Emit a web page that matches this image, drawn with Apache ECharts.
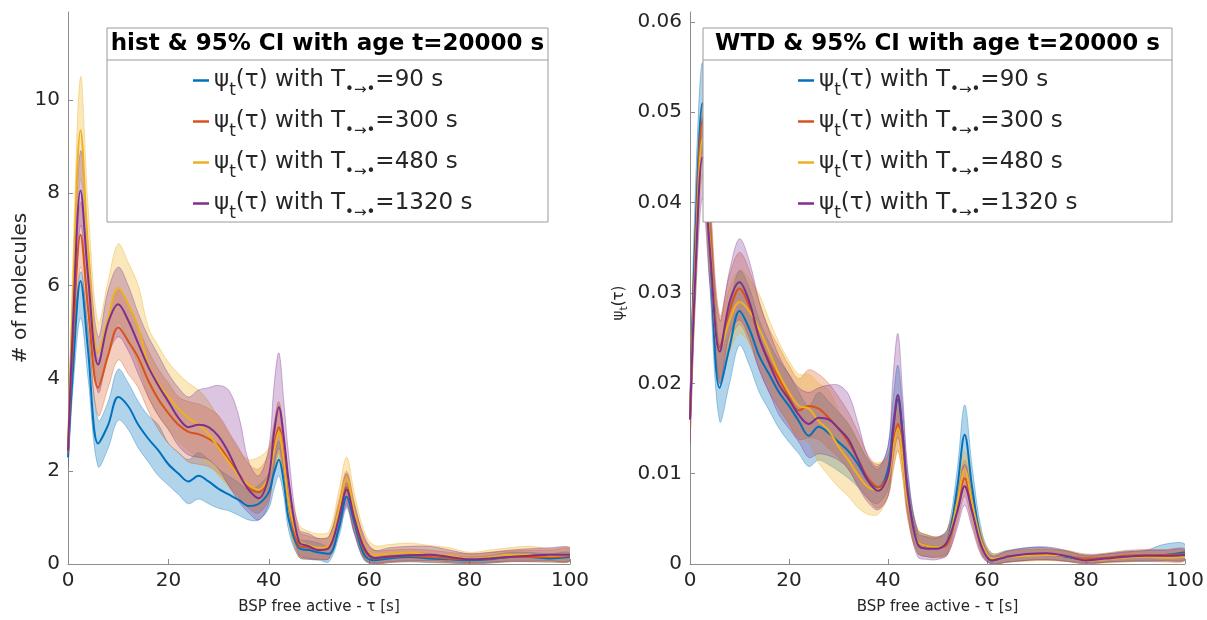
<!DOCTYPE html>
<html>
<head>
<meta charset="utf-8">
<script src="https://cdn.jsdelivr.net/npm/echarts@6/dist/echarts.min.js"></script>
<style>
html,body{margin:0;padding:0;background:#fff;}
#c{width:1207px;height:620px;}
</style>
</head>
<body>
<div id="c"></div>
<script>
// ---------- data ----------
const tau = [0, 1, 2.5, 4, 6, 8, 10, 12, 14, 16, 18, 20, 22, 24, 26, 28, 30, 32, 34, 36, 38, 40, 41, 42, 43, 44, 46, 48, 50, 52, 54, 55.5, 57, 59, 61, 64, 68, 72, 76, 80, 84, 88, 92, 96, 100];
const seriesNames = ['T90', 'T300', 'T480', 'T1320'];
const seriesLabels = ['90', '300', '480', '1320'];

// Left panel: histogram (# of molecules)
const histMean90 = [2.3, 4.2, 6.1, 4.6, 2.6, 3.0, 3.6, 3.4, 3.0, 2.7, 2.45, 2.15, 1.95, 1.78, 1.9, 1.78, 1.62, 1.5, 1.38, 1.25, 1.3, 1.55, 1.95, 2.25, 1.75, 0.95, 0.35, 0.3, 0.25, 0.22, 0.8, 1.45, 0.9, 0.2, 0.08, 0.12, 0.15, 0.12, 0.1, 0.08, 0.1, 0.15, 0.15, 0.12, 0.15];
const histLo90 = [2.1, 3.8, 5.3, 4.0, 2.1, 2.5, 3.1, 2.9, 2.5, 2.2, 1.9, 1.7, 1.5, 1.3, 1.4, 1.3, 1.2, 1.15, 1.05, 0.95, 0.95, 1.2, 1.6, 1.9, 1.45, 0.7, 0.15, 0.1, 0.08, 0.05, 0.6, 1.2, 0.65, 0.08, 0.0, 0.03, 0.05, 0.03, 0.02, 0.0, 0.02, 0.05, 0.05, 0.04, 0.06];
const histHi90 = [2.5, 4.6, 6.3, 5.1, 3.1, 3.5, 4.2, 3.9, 3.5, 3.2, 3.0, 2.6, 2.4, 2.25, 2.4, 2.25, 2.05, 1.9, 1.75, 1.6, 1.7, 1.95, 2.35, 2.65, 2.1, 1.2, 0.55, 0.5, 0.45, 0.4, 1.05, 1.75, 1.15, 0.35, 0.15, 0.22, 0.25, 0.22, 0.18, 0.15, 0.18, 0.25, 0.25, 0.22, 0.25];

const histMean300 = [2.4, 4.8, 7.1, 5.5, 3.8, 4.5, 5.1, 4.8, 4.45, 3.95, 3.55, 3.25, 3.0, 2.85, 2.8, 2.7, 2.55, 2.25, 1.95, 1.65, 1.55, 1.9, 2.5, 2.95, 2.3, 1.3, 0.4, 0.35, 0.3, 0.35, 1.05, 1.65, 1.0, 0.3, 0.12, 0.15, 0.18, 0.15, 0.12, 0.1, 0.12, 0.15, 0.15, 0.15, 0.18];
const histLo300 = [2.2, 4.3, 6.4, 4.9, 3.2, 3.8, 4.4, 4.1, 3.8, 3.3, 2.9, 2.6, 2.4, 2.2, 2.15, 2.1, 1.95, 1.7, 1.45, 1.2, 1.1, 1.4, 2.0, 2.4, 1.8, 0.9, 0.15, 0.1, 0.1, 0.12, 0.75, 1.3, 0.7, 0.1, 0.0, 0.03, 0.05, 0.04, 0.02, 0.0, 0.02, 0.05, 0.05, 0.05, 0.06];
const histHi300 = [2.6, 5.4, 7.8, 6.2, 4.4, 5.3, 5.9, 5.6, 5.1, 4.6, 4.2, 3.9, 3.6, 3.5, 3.45, 3.35, 3.2, 2.85, 2.5, 2.15, 2.05, 2.4, 3.0, 3.5, 2.85, 1.75, 0.7, 0.6, 0.55, 0.6, 1.4, 2.0, 1.35, 0.55, 0.3, 0.3, 0.32, 0.3, 0.25, 0.22, 0.25, 0.28, 0.3, 0.3, 0.32];

const histMean480 = [2.5, 5.8, 9.35, 6.8, 4.55, 5.3, 5.95, 5.6, 5.1, 4.3, 3.9, 3.6, 3.35, 3.15, 3.0, 2.8, 2.5, 2.2, 1.9, 1.7, 1.6, 1.9, 2.4, 2.85, 2.2, 1.3, 0.5, 0.4, 0.35, 0.4, 1.2, 1.85, 1.15, 0.4, 0.2, 0.22, 0.25, 0.2, 0.18, 0.12, 0.15, 0.2, 0.2, 0.18, 0.2];
const histLo480 = [2.3, 5.1, 8.3, 6.0, 3.9, 4.6, 5.2, 4.8, 4.3, 3.6, 3.2, 2.9, 2.65, 2.45, 2.3, 2.15, 1.9, 1.65, 1.4, 1.25, 1.2, 1.45, 1.9, 2.3, 1.7, 0.9, 0.2, 0.15, 0.12, 0.15, 0.85, 1.4, 0.8, 0.15, 0.03, 0.05, 0.08, 0.06, 0.05, 0.02, 0.04, 0.06, 0.06, 0.05, 0.06];
const histHi480 = [2.7, 6.6, 10.5, 7.7, 5.2, 6.1, 6.9, 6.5, 6.0, 5.1, 4.7, 4.35, 4.1, 3.9, 3.75, 3.5, 3.15, 2.8, 2.45, 2.25, 2.3, 2.5, 2.95, 3.45, 2.75, 1.75, 0.85, 0.7, 0.65, 0.7, 1.6, 2.3, 1.55, 0.7, 0.4, 0.42, 0.45, 0.4, 0.35, 0.25, 0.3, 0.35, 0.38, 0.33, 0.35];

const histMean1320 = [2.45, 5.2, 8.05, 6.2, 4.3, 5.2, 5.6, 5.25, 4.75, 4.25, 3.85, 3.5, 3.15, 2.95, 3.0, 2.95, 2.75, 2.4, 1.95, 1.6, 1.42, 1.9, 2.8, 3.38, 2.7, 1.75, 0.48, 0.38, 0.3, 0.35, 1.0, 1.6, 1.0, 0.35, 0.13, 0.16, 0.19, 0.2, 0.15, 0.1, 0.12, 0.15, 0.18, 0.2, 0.2];
const histLo1320 = [2.3, 4.6, 7.3, 5.5, 3.7, 4.5, 4.9, 4.6, 4.1, 3.6, 3.2, 2.9, 2.55, 2.35, 2.3, 2.25, 2.05, 1.7, 1.35, 1.1, 0.95, 1.3, 2.1, 2.5, 2.0, 1.2, 0.2, 0.12, 0.1, 0.12, 0.7, 1.25, 0.7, 0.12, 0.02, 0.05, 0.07, 0.07, 0.05, 0.02, 0.04, 0.06, 0.06, 0.07, 0.07];
const histHi1320 = [2.6, 5.8, 8.9, 6.9, 4.9, 5.9, 6.4, 6.0, 5.4, 4.9, 4.5, 4.1, 3.8, 3.6, 3.75, 3.8, 3.85, 3.75, 3.2, 2.2, 1.9, 2.5, 3.8, 4.55, 3.5, 2.3, 0.75, 0.65, 0.55, 0.6, 1.3, 1.95, 1.3, 0.6, 0.3, 0.35, 0.38, 0.38, 0.3, 0.22, 0.25, 0.3, 0.33, 0.35, 0.35];

// Right panel: waiting time distribution psi_t(tau)
const wtdMean90 = [0.016, 0.035, 0.051, 0.036, 0.0195, 0.024, 0.028, 0.026, 0.023, 0.021, 0.019, 0.0175, 0.0158, 0.0142, 0.0152, 0.0145, 0.0135, 0.0125, 0.011, 0.0092, 0.0085, 0.0105, 0.015, 0.0182, 0.014, 0.008, 0.0025, 0.002, 0.0019, 0.0025, 0.0085, 0.0143, 0.0085, 0.0022, 0.0004, 0.0008, 0.001, 0.0011, 0.0008, 0.0005, 0.0006, 0.0008, 0.0009, 0.001, 0.0013];
const wtdLo90 = [0.0145, 0.03, 0.046, 0.031, 0.0158, 0.02, 0.0242, 0.022, 0.019, 0.017, 0.015, 0.0135, 0.0122, 0.0108, 0.0115, 0.011, 0.0103, 0.0095, 0.0085, 0.0072, 0.0067, 0.0083, 0.012, 0.0148, 0.0112, 0.006, 0.0012, 0.0008, 0.0008, 0.0012, 0.0065, 0.011, 0.0065, 0.0012, 0.0, 0.0002, 0.0004, 0.0005, 0.0003, 0.0001, 0.0002, 0.0003, 0.0003, 0.0004, 0.0005];
const wtdHi90 = [0.0175, 0.04, 0.0555, 0.041, 0.024, 0.0285, 0.0325, 0.0305, 0.027, 0.0245, 0.0225, 0.021, 0.019, 0.0175, 0.019, 0.018, 0.0168, 0.0155, 0.0135, 0.0115, 0.0105, 0.013, 0.018, 0.022, 0.017, 0.01, 0.0038, 0.0032, 0.003, 0.0038, 0.0105, 0.0176, 0.0108, 0.0035, 0.0012, 0.0015, 0.0018, 0.0018, 0.0014, 0.001, 0.0011, 0.0014, 0.0015, 0.0022, 0.0022];

const wtdMean300 = [0.016, 0.033, 0.049, 0.037, 0.024, 0.028, 0.0305, 0.0285, 0.025, 0.0225, 0.0205, 0.0185, 0.017, 0.0175, 0.0172, 0.0162, 0.015, 0.0135, 0.0115, 0.0095, 0.0085, 0.0098, 0.013, 0.0155, 0.012, 0.007, 0.0025, 0.002, 0.0018, 0.0022, 0.0062, 0.0095, 0.0062, 0.002, 0.0005, 0.0008, 0.001, 0.001, 0.0009, 0.0006, 0.0007, 0.0009, 0.001, 0.001, 0.0011];
const wtdLo300 = [0.0135, 0.029, 0.0455, 0.033, 0.0205, 0.0245, 0.0265, 0.0245, 0.0215, 0.019, 0.0172, 0.0155, 0.0138, 0.014, 0.0138, 0.0128, 0.0118, 0.0105, 0.0088, 0.0072, 0.0062, 0.0075, 0.0102, 0.0125, 0.0095, 0.005, 0.0012, 0.0008, 0.0007, 0.001, 0.0045, 0.0075, 0.0045, 0.001, 0.0, 0.0002, 0.0004, 0.0004, 0.0003, 0.0001, 0.0002, 0.0003, 0.0004, 0.0004, 0.0005];
const wtdHi300 = [0.0185, 0.037, 0.051, 0.041, 0.0275, 0.032, 0.0345, 0.0325, 0.029, 0.026, 0.024, 0.022, 0.0205, 0.0215, 0.021, 0.02, 0.0185, 0.0168, 0.0145, 0.012, 0.011, 0.012, 0.016, 0.0188, 0.015, 0.009, 0.0038, 0.0032, 0.003, 0.0034, 0.0078, 0.0115, 0.0078, 0.003, 0.001, 0.0014, 0.0016, 0.0016, 0.0015, 0.0011, 0.0012, 0.0015, 0.0016, 0.0016, 0.0017];

const wtdMean480 = [0.016, 0.032, 0.047, 0.036, 0.0235, 0.027, 0.029, 0.028, 0.026, 0.0235, 0.021, 0.019, 0.0175, 0.0172, 0.0158, 0.0148, 0.013, 0.0115, 0.0098, 0.0085, 0.0082, 0.0095, 0.0125, 0.015, 0.0115, 0.0068, 0.0025, 0.002, 0.0019, 0.0025, 0.0068, 0.0105, 0.0068, 0.0022, 0.0006, 0.0008, 0.0009, 0.001, 0.0009, 0.0004, 0.0005, 0.0007, 0.0008, 0.0007, 0.0008];
const wtdLo480 = [0.0145, 0.028, 0.043, 0.032, 0.02, 0.0235, 0.0255, 0.0245, 0.0225, 0.02, 0.0175, 0.0155, 0.014, 0.0135, 0.0112, 0.0098, 0.0085, 0.0075, 0.0062, 0.0055, 0.0055, 0.0075, 0.0105, 0.0125, 0.0095, 0.0052, 0.0012, 0.0009, 0.0008, 0.0012, 0.0052, 0.0085, 0.0052, 0.0012, 0.0001, 0.0002, 0.0003, 0.0004, 0.0003, 0.0, 0.0001, 0.0002, 0.0003, 0.0002, 0.0003];
const wtdHi480 = [0.0175, 0.036, 0.05, 0.04, 0.027, 0.0305, 0.0325, 0.0315, 0.0298, 0.027, 0.0245, 0.0225, 0.021, 0.021, 0.02, 0.0192, 0.017, 0.0155, 0.0135, 0.0115, 0.0112, 0.0118, 0.0148, 0.0175, 0.0138, 0.0085, 0.0038, 0.0032, 0.003, 0.0038, 0.0085, 0.0125, 0.0085, 0.0032, 0.0012, 0.0014, 0.0016, 0.0017, 0.0015, 0.0009, 0.001, 0.0012, 0.0014, 0.0013, 0.0014];

const wtdMean1320 = [0.016, 0.031, 0.045, 0.035, 0.0235, 0.029, 0.0312, 0.029, 0.025, 0.0222, 0.0198, 0.0182, 0.0165, 0.0155, 0.0162, 0.016, 0.015, 0.0138, 0.0115, 0.0092, 0.0081, 0.0098, 0.0145, 0.0187, 0.0142, 0.0078, 0.0022, 0.0017, 0.0017, 0.0025, 0.0058, 0.0086, 0.0058, 0.0018, 0.0004, 0.0008, 0.0011, 0.0012, 0.0009, 0.0004, 0.0006, 0.0008, 0.0009, 0.0009, 0.001];
const wtdLo1320 = [0.0135, 0.028, 0.0405, 0.031, 0.02, 0.0255, 0.027, 0.025, 0.0215, 0.019, 0.0165, 0.015, 0.0135, 0.0118, 0.0122, 0.012, 0.0115, 0.0105, 0.0085, 0.0068, 0.006, 0.0075, 0.0115, 0.014, 0.0108, 0.0055, 0.0008, 0.0005, 0.0005, 0.001, 0.004, 0.0065, 0.004, 0.0008, 0.0, 0.0002, 0.0004, 0.0005, 0.0003, 0.0, 0.0002, 0.0003, 0.0003, 0.0003, 0.0004];
const wtdHi1320 = [0.018, 0.036, 0.0495, 0.039, 0.027, 0.0325, 0.036, 0.0335, 0.029, 0.0258, 0.023, 0.021, 0.0195, 0.019, 0.0195, 0.0198, 0.0198, 0.0188, 0.0155, 0.0118, 0.0108, 0.013, 0.0205, 0.0255, 0.0185, 0.0105, 0.0035, 0.003, 0.0029, 0.0038, 0.0075, 0.011, 0.0075, 0.0028, 0.0009, 0.0014, 0.0018, 0.0019, 0.0015, 0.0009, 0.0011, 0.0013, 0.0015, 0.0015, 0.0016];

const xTicks = [0, 20, 40, 60, 80, 100];
const yTicksLeft = [0, 2, 4, 6, 8, 10];
const yTicksRight = [0, 0.01, 0.02, 0.03, 0.04, 0.05, 0.06];
const titleLeft = 'hist & 95% CI with age t=20000 s';
const titleRight = 'WTD & 95% CI with age t=20000 s';

// ---------- build ----------
const colors = ['#0072BD', '#D95319', '#EDB120', '#7E2F8E'];
const fillColors = ['rgba(0,114,189,0.30)', 'rgba(217,83,25,0.28)', 'rgba(237,177,32,0.30)', 'rgba(126,47,142,0.28)'];
const edgeColors = ['rgba(0,114,189,0.35)', 'rgba(217,83,25,0.35)', 'rgba(237,177,32,0.4)', 'rgba(126,47,142,0.35)'];
const panels = [
  {mean: [histMean90, histMean300, histMean480, histMean1320], lo: [histLo90, histLo300, histLo480, histLo1320], hi: [histHi90, histHi300, histHi480, histHi1320]},
  {mean: [wtdMean90, wtdMean300, wtdMean480, wtdMean1320], lo: [wtdLo90, wtdLo300, wtdLo480, wtdLo1320], hi: [wtdHi90, wtdHi300, wtdHi480, wtdHi1320]}
];
const SM = 0.35;

function bandRenderer(k) {
  return function (params, api) {
    if (params.dataIndexInside !== 0) return null;
    const n = params.dataInsideLength;
    const up = [], dn = [];
    for (let i = 0; i < n; i++) {
      const x = api.value(0, i);
      up.push(api.coord([x, api.value(2, i)]));
      dn.push(api.coord([x, api.value(1, i)]));
    }
    dn.reverse();
    return {
      type: 'group',
      children: [
        {type: 'polygon', shape: {points: up.concat(dn), smooth: SM},
         style: {fill: fillColors[k], stroke: edgeColors[k], lineWidth: 1}}
      ]
    };
  };
}

const series = [];
panels.forEach((p, pi) => {
  for (let k = 0; k < 4; k++) {
    series.push({
      type: 'custom', xAxisIndex: pi, yAxisIndex: pi, silent: true, z: 1, clip: true,
      renderItem: bandRenderer(k),
      encode: {x: 0, y: [1, 2]},
      data: tau.map((x, i) => [x, p.lo[k][i], p.hi[k][i]])
    });
  }
  for (let k = 0; k < 4; k++) {
    series.push({
      name: seriesNames[k], type: 'line', xAxisIndex: pi, yAxisIndex: pi, smooth: SM,
      symbol: 'none', z: 3, color: colors[k],
      lineStyle: {color: colors[k], width: 2},
      data: tau.map((x, i) => [x, p.mean[k][i]])
    });
  }
});

const FONT = 'DejaVu Sans';
const labelStyle = {color: '#262626', fontSize: 20, fontFamily: FONT};
const axisLineStyle = {color: '#8c8c8c', width: 1};

function xAxisCfg(gi) {
  return {
    type: 'value', gridIndex: gi, min: 0, max: 100,
    name: 'BSP free active - τ [s]', nameLocation: 'middle', nameGap: 36,
    nameTextStyle: {color: '#262626', fontSize: 15, fontFamily: FONT},
    axisLine: {show: true, lineStyle: axisLineStyle},
    axisTick: {show: true, inside: true, length: 5, lineStyle: axisLineStyle, customValues: xTicks},
    axisLabel: Object.assign({customValues: xTicks, margin: 7}, labelStyle),
    splitLine: {show: false}
  };
}

const legendRich = {
  a: {fontSize: 23, fontFamily: FONT, color: '#262626', lineHeight: 28},
  s: {fontSize: 17, fontFamily: FONT, color: '#262626', lineHeight: 16, padding: [20, 0, 0, 0]},
  d: {fontSize: 15, fontFamily: FONT, color: '#262626', lineHeight: 12, padding: [20, 0, 0, 0]}
};
function legendCfg(left) {
  return {
    data: seriesNames, orient: 'vertical', left, top: 57, z: 20,
    icon: 'rect', itemWidth: 16, itemHeight: 2.5, itemGap: 4,
    selectedMode: false,
    textStyle: {rich: legendRich, fontFamily: FONT},
    formatter: name => {
      const lab = seriesLabels[seriesNames.indexOf(name)];
      return '{a|ψ}{s|t}{a|(τ) with T}{d|•→•}{a|=' + lab + ' s}';
    }
  };
}

function box(x, w, title) {
  return [
    {type: 'rect', z: 10, shape: {x, y: 28, width: w, height: 194}, style: {fill: '#fff', stroke: '#9a9a9a', lineWidth: 1}},
    {type: 'line', z: 11, shape: {x1: x, y1: 60, x2: x + w, y2: 60}, style: {stroke: '#9a9a9a', lineWidth: 1}},
    {type: 'text', z: 11, x: x + w / 2, y: 44, style: {text: title, fontFamily: FONT, fontWeight: 'bold', fontSize: 23, fill: '#000', align: 'center', verticalAlign: 'middle'}}
  ];
}

const option = {
  backgroundColor: '#fff',
  animation: false,
  grid: [
    {left: 68, top: 12, width: 502, height: 554, containLabel: false},
    {left: 690, top: 12, width: 495, height: 554, containLabel: false}
  ],
  xAxis: [xAxisCfg(0), xAxisCfg(1)],
  yAxis: [
    {
      type: 'value', gridIndex: 0, min: 0, max: 11.9,
      name: '# of molecules', nameLocation: 'middle', nameGap: 36, nameRotate: 90,
      nameTextStyle: {color: '#262626', fontSize: 20, fontFamily: FONT},
      axisLine: {show: true, lineStyle: axisLineStyle},
      axisTick: {show: true, inside: true, length: 5, lineStyle: axisLineStyle, customValues: yTicksLeft},
      axisLabel: Object.assign({customValues: yTicksLeft, margin: 8}, labelStyle),
      splitLine: {show: false}
    },
    {
      type: 'value', gridIndex: 1, min: 0, max: 0.0611,
      name: '{a|ψ}{s|t}{a|(τ)}', nameLocation: 'middle', nameGap: 62, nameRotate: 90,
      nameTextStyle: {color: '#262626', fontFamily: FONT, padding: [0, 30, 0, 0], rich: {
        a: {fontSize: 15, fontFamily: FONT, color: '#262626', lineHeight: 18},
        s: {fontSize: 11, fontFamily: FONT, color: '#262626', lineHeight: 11, padding: [10, 0, 0, 0]}
      }},
      axisLine: {show: true, lineStyle: axisLineStyle},
      axisTick: {show: true, inside: true, length: 5, lineStyle: axisLineStyle, customValues: yTicksRight},
      axisLabel: Object.assign({customValues: yTicksRight, margin: 8, formatter: v => String(+v.toFixed(2))}, labelStyle),
      splitLine: {show: false}
    }
  ],
  legend: [legendCfg(188), legendCfg(793)],
  graphic: box(107, 441, titleLeft).concat(box(703, 469, titleRight)),
  series
};

const chart = echarts.init(document.getElementById('c'), null, {renderer: 'canvas'});
chart.setOption(option);
</script>
</body>
</html>
